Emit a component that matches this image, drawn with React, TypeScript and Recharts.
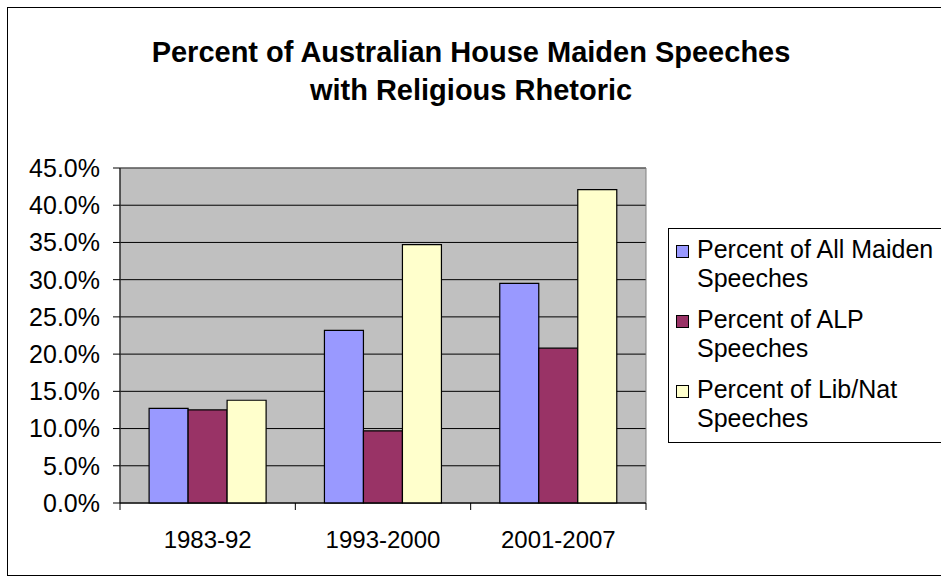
import {
  Bar,
  BarChart,
  CartesianGrid,
  ReferenceArea,
  XAxis,
  YAxis,
} from "recharts";

const categories = ["1983-92", "1993-2000", "2001-2007"];
const allMaiden = [12.7, 23.2, 29.5];
const alpSpeeches = [12.5, 9.7, 20.8];
const libNatSpeeches = [13.8, 34.7, 42.1];
const yTicks = [0, 5, 10, 15, 20, 25, 30, 35, 40, 45];

const series = [
  { key: "all", name: "Percent of All Maiden Speeches", color: "#9999FF", values: allMaiden },
  { key: "alp", name: "Percent of ALP Speeches", color: "#993366", values: alpSpeeches },
  { key: "libnat", name: "Percent of Lib/Nat Speeches", color: "#FFFFCC", values: libNatSpeeches },
];

const data = categories.map((period, i) => {
  const row: Record<string, string | number> = { period };
  series.forEach((s) => {
    row[s.key] = s.values[i];
  });
  return row;
});

const FONT = '"Liberation Sans", Arial, sans-serif';

// Excel-style category tick: marks sit on the category boundaries, label in the middle
function CategoryTick(props: any) {
  const { x, y, payload, index, visibleTicksCount } = props;
  const half = payload?.offset || 87.5;
  const last = index === (visibleTicksCount ?? categories.length) - 1;
  return (
    <g>
      <line stroke="#000" x1={x - half} x2={x - half} y1={y} y2={y + 7} />
      {last && <line stroke="#000" x1={x + half} x2={x + half} y1={y} y2={y + 7} />}
      <text fill="#000" fontFamily={FONT} fontSize={24} textAnchor="middle" x={x} y={y + 45}>
        {payload.value}
      </text>
    </g>
  );
}

export default function App() {
  return (
    <div
      style={{
        position: "fixed",
        left: 0,
        top: 0,
        width: 941,
        height: 578,
        background: "#fff",
        overflow: "hidden",
        fontFamily: FONT,
      }}
    >
      <div
        style={{
          position: "absolute",
          left: 7,
          top: 7,
          width: 960,
          height: 569,
          border: "1px solid #000",
          boxSizing: "border-box",
        }}
      />
      <div
        style={{
          position: "absolute",
          left: 71,
          width: 800,
          top: 33,
          textAlign: "center",
          fontWeight: "bold",
          fontSize: 29,
          lineHeight: "38px",
          color: "#000",
        }}
      >
        Percent of Australian House Maiden Speeches
        <br />
        with Religious Rhetoric
      </div>
      <div style={{ position: "absolute", left: 0, top: 0 }}>
        <BarChart
          barCategoryGap="16.6%"
          barGap={0}
          data={data}
          height={578}
          margin={{ top: 168, right: 295, bottom: 0, left: 10 }}
          width={941}
        >
          <CartesianGrid fill="#C0C0C0" stroke="#000" vertical={false} />
          <ReferenceArea fill="none" ifOverflow="visible" stroke="#808080" y1={0} y2={45} />
          <XAxis
            axisLine={{ stroke: "#000" }}
            dataKey="period"
            height={75}
            interval={0}
            tick={<CategoryTick />}
            tickLine={false}
            tickMargin={0}
            tickSize={0}
          />
          <YAxis
            axisLine={{ stroke: "#000" }}
            domain={[0, 45]}
            tick={{ fill: "#000", fontSize: 25, fontFamily: FONT }}
            tickFormatter={(v: number) => `${v.toFixed(1)}%`}
            tickLine={{ stroke: "#000" }}
            tickMargin={13}
            tickSize={7}
            ticks={yTicks}
            width={110}
          />
          {series.map((s) => (
            <Bar
              dataKey={s.key}
              fill={s.color}
              isAnimationActive={false}
              key={s.key}
              name={s.name}
              stroke="#000"
              strokeWidth={1.2}
            />
          ))}
        </BarChart>
      </div>
      <div
        style={{
          position: "absolute",
          left: 668,
          top: 228,
          width: 300,
          height: 215,
          border: "1px solid #000",
          boxSizing: "border-box",
          background: "#fff",
          paddingTop: 6,
        }}
      >
        {series.map((s) => (
          <div key={s.key} style={{ position: "relative", height: 70 }}>
            <div
              style={{
                position: "absolute",
                left: 7,
                top: 10,
                width: 13,
                height: 13,
                background: s.color,
                border: "1.5px solid #000",
                boxSizing: "border-box",
              }}
            />
            <div
              style={{
                marginLeft: 28,
                width: 255,
                fontSize: 25,
                lineHeight: "29px",
                color: "#000",
              }}
            >
              {s.name}
            </div>
          </div>
        ))}
      </div>
    </div>
  );
}
